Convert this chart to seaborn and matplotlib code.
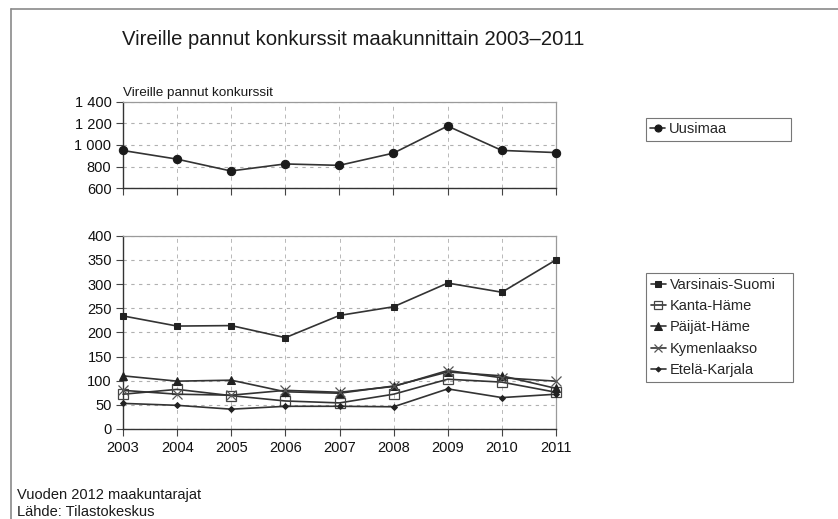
import matplotlib
matplotlib.use("Agg")
import matplotlib.pyplot as plt
import matplotlib.ticker as mticker
from matplotlib.lines import Line2D
import seaborn as sns
import pandas as pd

years = [2003, 2004, 2005, 2006, 2007, 2008, 2009, 2010, 2011]
uusimaa = [950, 870, 760, 825, 812, 925, 1175, 950, 930]
varsinais_suomi = [234, 213, 214, 189, 235, 253, 302, 283, 350]
kanta_hame = [72, 82, 69, 58, 54, 72, 103, 97, 76]
paijat_hame = [110, 99, 101, 77, 74, 89, 118, 110, 84]
kymenlaakso = [80, 72, 70, 80, 76, 88, 121, 106, 99]
etela_karjala = [53, 49, 41, 47, 47, 46, 83, 65, 72]

title = "Vireille pannut konkurssit maakunnittain 2003\u20132011"
ylabel = "Vireille pannut konkurssit"
footer1 = "Vuoden 2012 maakuntarajat"
footer2 = "L\u00e4hde: Tilastokeskus"

top_ticks = [600, 800, 1000, 1200, 1400]
bottom_ticks = [0, 50, 100, 150, 200, 250, 300, 350, 400]

sns.set_theme(style="white")
plt.rcParams['font.family'] = ['Liberation Sans', 'DejaVu Sans']

W, H = 838, 519
fig = plt.figure(figsize=(W / 100, H / 100), dpi=100)

def frac_box(l, t, r, b):
    return [l / W, 1 - b / H, (r - l) / W, (b - t) / H]

ax1 = fig.add_axes(frac_box(122.5, 101.7, 556, 188.3))
ax2 = fig.add_axes(frac_box(123, 235.7, 556, 429))

line_col = "#333333"

df_top = pd.DataFrame({"year": years, "value": uusimaa, "series": "Uusimaa"})
bottom_series = [
    ("Varsinais-Suomi", varsinais_suomi, dict(marker="s", markersize=5, markerfacecolor="#222222", markeredgecolor="#222222")),
    ("Kanta-H\u00e4me", kanta_hame, dict(marker="s", markersize=7, markerfacecolor="none", markeredgecolor="#444444", markeredgewidth=0.9)),
    ("P\u00e4ij\u00e4t-H\u00e4me", paijat_hame, dict(marker="^", markersize=6, markerfacecolor="#222222", markeredgecolor="#222222")),
    ("Kymenlaakso", kymenlaakso, dict(marker="x", markersize=7, markeredgecolor="#555555", markeredgewidth=0.9)),
    ("Etel\u00e4-Karjala", etela_karjala, dict(marker="D", markersize=3, markerfacecolor="#222222", markeredgecolor="#222222")),
]

sns.lineplot(data=df_top, x="year", y="value", ax=ax1, color=line_col, linewidth=1.2,
             marker="o", markersize=6, markerfacecolor="#1a1a1a", markeredgecolor="#1a1a1a",
             label="Uusimaa", clip_on=False, zorder=5)

for name, vals, kw in bottom_series:
    d = pd.DataFrame({"year": years, "value": vals})
    sns.lineplot(data=d, x="year", y="value", ax=ax2, color=line_col, linewidth=1.2,
                 label=name, clip_on=False, zorder=5, **kw)

def fmt(v, pos):
    v = int(round(v))
    return f"{v:,}".replace(",", " ")

for ax, ticks in ((ax1, top_ticks), (ax2, bottom_ticks)):
    ax.set_xlim(years[0], years[-1])
    ax.set_ylim(ticks[0], ticks[-1])
    ax.set_yticks(ticks)
    ax.set_xticks(years)
    ax.yaxis.set_major_formatter(mticker.FuncFormatter(fmt))
    ax.set_xlabel("")
    ax.set_ylabel("")
    ax.grid(True, axis="y", color="#b0b0b0", linestyle=(0, (3, 4)), linewidth=0.8)
    ax.grid(True, axis="x", color="#b8b8b8", linestyle=(0, (4, 4)), linewidth=0.7)
    ax.set_axisbelow(True)
    for side in ("top", "right"):
        ax.spines[side].set_color("#9a9a9a")
        ax.spines[side].set_linewidth(0.9)
    for side in ("left", "bottom"):
        ax.spines[side].set_color("#333333")
        ax.spines[side].set_linewidth(1.0)
    ax.tick_params(axis="both", which="major", direction="out", length=5, width=0.8,
                   color="#444444", labelsize=10.5, labelcolor="#111111", left=True, bottom=True, pad=3)
    ax.set_facecolor("white")

ax1.tick_params(axis="x", labelbottom=False)
ax2.tick_params(axis="x", pad=4)

# legends
h1, l1 = ax1.get_legend_handles_labels()
leg1 = ax1.legend(h1, l1, loc="upper left",
                  bbox_to_anchor=(646 / W, 1 - 118 / H, 145 / W, 0.0), mode="expand",
                  bbox_transform=fig.transFigure, frameon=True, fancybox=False,
                  edgecolor="#555555", fontsize=10.5, handlelength=1.0, handletextpad=0.3,
                  borderpad=0.3, borderaxespad=0)
leg1.get_frame().set_linewidth(0.8)
h2, l2 = ax2.get_legend_handles_labels()
leg2 = ax2.legend(h2, l2, loc="upper left",
                  bbox_to_anchor=(646 / W, 1 - 272.7 / H, 147 / W, 0.0), mode="expand",
                  bbox_transform=fig.transFigure, frameon=True, fancybox=False,
                  edgecolor="#555555", fontsize=10.5, handlelength=1.0, handletextpad=0.3,
                  borderpad=0.35, labelspacing=0.5, borderaxespad=0)
leg2.get_frame().set_linewidth(0.8)
for leg in (leg1, leg2):
    for lh in leg.legend_handles:
        lh.set_markersize(lh.get_markersize() * 0.85)

fig.text(122 / W, 1 - 45 / H, title, fontsize=14.6, color="#1a1a1a", ha="left", va="baseline")
fig.text(123 / W, 1 - 96 / H, ylabel, fontsize=9.7, color="#1a1a1a", ha="left", va="baseline")
fig.text(17 / W, 1 - 499 / H, footer1, fontsize=10.5, color="#1a1a1a", ha="left", va="baseline")
fig.text(17 / W, 1 - 516 / H, footer2, fontsize=10.5, color="#1a1a1a", ha="left", va="baseline")

# outer frame (left and top edges)
fig.add_artist(Line2D([11 / W, 11 / W], [0, 1 - 9 / H], transform=fig.transFigure, color="#8a8a8a", linewidth=1.2))
fig.add_artist(Line2D([11 / W, 1], [1 - 9 / H, 1 - 9 / H], transform=fig.transFigure, color="#8a8a8a", linewidth=1.2))

fig.savefig("out.png", dpi=100, facecolor="white")
